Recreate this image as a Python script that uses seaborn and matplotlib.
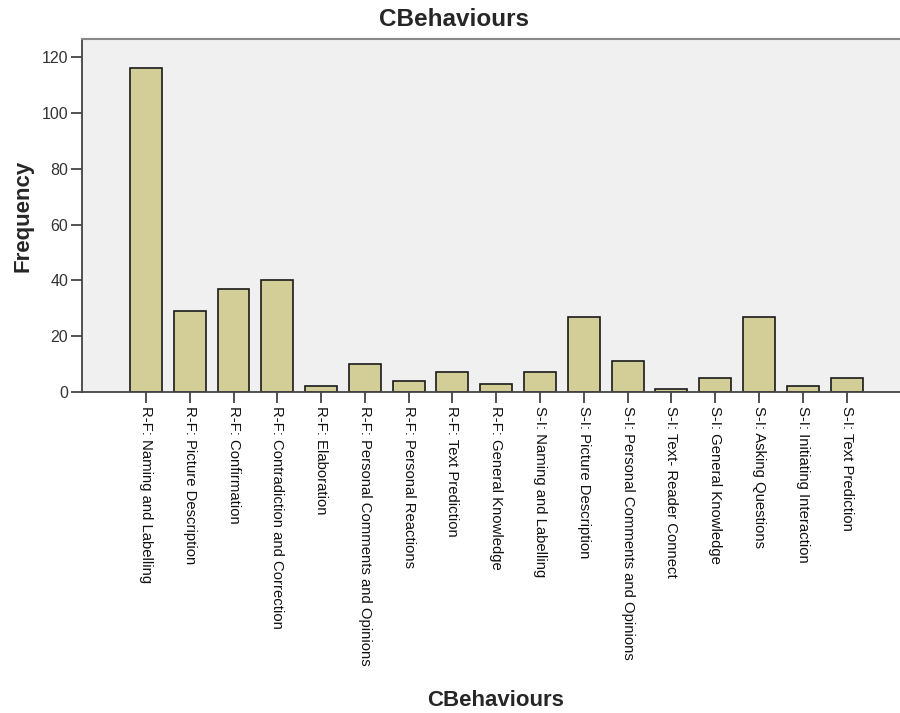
import matplotlib
matplotlib.use("Agg")
import matplotlib.pyplot as plt
import seaborn as sns
import pandas as pd

categories = [
    "R-F: Naming and Labelling",
    "R-F: Picture Description",
    "R-F: Confirmation",
    "R-F: Contradiction and Correction",
    "R-F: Elaboration",
    "R-F: Personal Comments and Opinions",
    "R-F: Personal Reactions",
    "R-F: Text Prediction",
    "R-F: General Knowledge",
    "S-I: Naming and Labelling",
    "S-I: Picture Description",
    "S-I: Personal Comments and Opinions",
    "S-I: Text- Reader Connect",
    "S-I: General Knowledge",
    "S-I: Asking Questions",
    "S-I: Initiating Interaction",
    "S-I: Text Prediction",
]
frequencies = [116, 29, 37, 40, 2, 10, 4, 7, 3, 7, 27, 11, 1, 5, 27, 2, 5]
y_ticks = [0, 20, 40, 60, 80, 100, 120]

sns.set_style("white")
plt.rcParams['font.family'] = ['Liberation Sans', 'DejaVu Sans']

df = pd.DataFrame({"cat": categories, "freq": frequencies})

fig = plt.figure(figsize=(9, 7.13), dpi=100)
ax = fig.add_axes([82/900, 1 - 392/713, 1 - 82/900, (392 - 39)/713])
ax.set_facecolor("#F0F0F0")

sns.barplot(data=df, x="cat", y="freq", color="#D3CE97", edgecolor="#1a1a1a",
            linewidth=1.2, width=0.73, saturation=1, ax=ax)

ax.set_xlim(-1.46, 17.22)
ax.set_ylim(0, 126.5)
ax.set_yticks(y_ticks)
ax.set_yticklabels([str(t) for t in y_ticks], fontsize=11.5, color="#333333")
ax.set_xticks(range(len(categories)))
ax.set_xticklabels(categories, rotation=270, fontsize=10.7, color="#111111",
                   va="top", ha="center")
ax.tick_params(axis="both", direction="out", length=8, width=1.2, color="#333333",
               bottom=True, left=True, pad=2)

for s in ["left", "bottom"]:
    ax.spines[s].set_color("#444444")
    ax.spines[s].set_linewidth(1.3)
ax.spines["top"].set_color("#888888")
ax.spines["top"].set_linewidth(1.5)
ax.spines["right"].set_visible(False)

ax.set_xlabel("")
ax.set_ylabel("Frequency", fontsize=16, fontweight="bold", labelpad=6)
fig.text(454/900, 1 - 20/713, "CBehaviours", fontsize=17.5, fontweight="bold",
         ha="center", va="center")
fig.text(496/900, 1 - 700/713, "CBehaviours", fontsize=16, fontweight="bold",
         ha="center", va="center")

fig.savefig("out.png", dpi=100, facecolor="white")
